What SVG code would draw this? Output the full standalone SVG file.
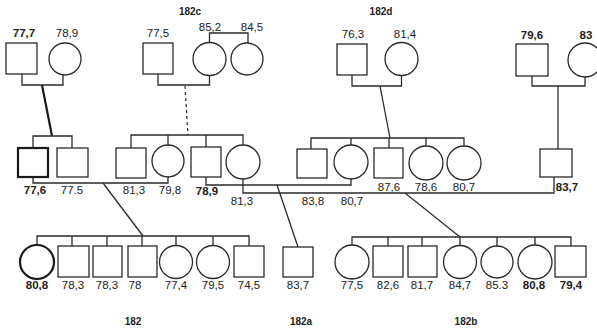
<svg xmlns="http://www.w3.org/2000/svg" width="597" height="330" viewBox="0 0 597 330">
<style>
.s{fill:none;stroke:#2a2a2a;stroke-width:1.3}
.t{fill:none;stroke:#1a1a1a;stroke-width:2.2}
.c{fill:none;stroke:#2a2a2a;stroke-width:1.3}
.d{fill:none;stroke:#2a2a2a;stroke-width:1.2;stroke-dasharray:3 3}
text{font-family:"Liberation Sans",Arial,sans-serif;font-size:11.5px;fill:#222;text-anchor:middle}
.b{font-weight:bold}
.h{font-size:10px;font-weight:bold}
</style>
<rect width="597" height="330" fill="#fff"/>
<g id="connectors">
<path class="c" d="M22,74 V85 H63 V75"/>
<path class="c" d="M158,74 V85 H209.5 V75.5"/>
<path class="c" d="M209.5,42.5 V33 H248 V43"/>
<path class="c" d="M352,75 V86 H401.5 V75.5"/>
<path class="c" d="M532,76 V86 H585 V77"/>
<path class="t" d="M42,85 L52,136"/>
<path class="d" d="M185,86 L188,135"/>
<path class="c" d="M380,86 L390,138"/>
<path class="c" d="M558,86 V149"/>
<path class="c" d="M33,148 V136 H72 V148"/>
<path class="c" d="M131,148 V135 H243 V145 M168,135 V145 M206,135 V147"/>
<path class="c" d="M311,149 V138 H464 V146 M351,138 V145 M389,138 V148 M426,138 V146"/>
<path class="c" d="M33,177 V183 H168 V177"/>
<path class="c" d="M206,177 V185 H351 V179"/>
<path class="c" d="M243,179 V193 H554 V177"/>
<path class="c" d="M103,183 L143,236"/>
<path class="c" d="M277,185 L298,247"/>
<path class="c" d="M405,193 L460,237"/>
<path class="c" d="M37,245 V236 H249 V246 M72,236 V246 M107,236 V246 M142,236 V246 M176,236 V245.5 M213,236 V245.5"/>
<path class="c" d="M352,245 V237 H571 V246 M388,237 V246 M422,237 V246 M460,237 V245.5 M497,237 V246 M535,237 V245"/>
</g>
<g id="titles">
<text class="h" x="190" y="15">182c</text>
<text class="h" x="381" y="15">182d</text>
<text class="h" x="133" y="325">182</text>
<text class="h" x="301" y="325">182a</text>
<text class="h" x="466" y="325">182b</text>
</g>
<g id="n_77_7"><rect class="s" x="6" y="43" width="31" height="31"/><text class="b" x="24" y="37">77,7</text></g>
<g id="n_78_9"><circle class="s" cx="65" cy="59" r="16"/><text x="67" y="37">78,9</text></g>
<g id="n_77_5c"><rect class="s" x="143" y="43" width="30" height="31"/><text x="158" y="37">77,5</text></g>
<g id="n_85_2"><circle class="s" cx="209.5" cy="59" r="16.5"/><text x="210" y="31">85,2</text></g>
<g id="n_84_5"><circle class="s" cx="247" cy="59" r="16"/><text x="252" y="31">84,5</text></g>
<g id="n_76_3"><rect class="s" x="337" y="44" width="30" height="31"/><text x="353" y="38">76,3</text></g>
<g id="n_81_4"><circle class="s" cx="401.5" cy="59" r="16.5"/><text x="405" y="38">81,4</text></g>
<g id="n_79_6"><rect class="s" x="516" y="44" width="32" height="32"/><text class="b" x="532" y="39">79,6</text></g>
<g id="n_83"><circle class="s" cx="585" cy="60" r="17"/><text class="b" x="586" y="39">83</text></g>
<g id="n_77_6"><rect class="t" x="18" y="148" width="30" height="29"/><text class="b" x="35" y="194">77,6</text></g>
<g id="n_77_5"><rect class="s" x="57" y="148" width="31" height="29"/><text x="72" y="194">77.5</text></g>
<g id="n_81_3a"><rect class="s" x="116" y="148" width="30" height="30"/><text x="134" y="194">81,3</text></g>
<g id="n_79_8"><circle class="s" cx="168" cy="161" r="16"/><text x="170" y="194">79,8</text></g>
<g id="n_78_9b"><rect class="s" x="191" y="147" width="30" height="30"/><text class="b" x="207" y="195">78,9</text></g>
<g id="n_81_3b"><circle class="s" cx="243" cy="162" r="17"/><text x="242" y="205">81,3</text></g>
<g id="n_83_8"><rect class="s" x="297" y="149" width="30" height="29"/><text x="313" y="205">83,8</text></g>
<g id="n_80_7a"><circle class="s" cx="351" cy="162" r="17"/><text x="352" y="205">80,7</text></g>
<g id="n_87_6"><rect class="s" x="374" y="148" width="29" height="30"/><text x="389" y="191">87,6</text></g>
<g id="n_78_6"><circle class="s" cx="426" cy="163" r="17"/><text x="426" y="191">78,6</text></g>
<g id="n_80_7b"><circle class="s" cx="464" cy="163" r="17"/><text x="464" y="191">80,7</text></g>
<g id="n_83_7"><rect class="s" x="540" y="149" width="32" height="28"/><text class="b" x="567" y="191">83,7</text></g>
<g id="n_80_8"><circle class="t" cx="37" cy="262" r="17"/><text class="b" x="37" y="289">80,8</text></g>
<g id="n_78_3a"><rect class="s" x="58" y="246" width="31" height="31"/><text x="73" y="289">78,3</text></g>
<g id="n_78_3b"><rect class="s" x="93" y="246" width="29" height="31"/><text x="107" y="289">78,3</text></g>
<g id="n_78"><rect class="s" x="128" y="246" width="29" height="31"/><text x="135" y="289">78</text></g>
<g id="n_77_4"><circle class="s" cx="176" cy="262" r="16.5"/><text x="176" y="289">77,4</text></g>
<g id="n_79_5"><circle class="s" cx="213" cy="262" r="16.5"/><text x="213" y="289">79,5</text></g>
<g id="n_74_5"><rect class="s" x="234" y="246" width="30" height="31"/><text x="249" y="289">74,5</text></g>
<g id="n_83_7a"><rect class="s" x="283" y="247" width="30" height="30"/><text x="298" y="289">83,7</text></g>
<g id="n_77_5b"><circle class="s" cx="352" cy="262" r="17"/><text x="352" y="289">77,5</text></g>
<g id="n_82_6"><rect class="s" x="373" y="246" width="30" height="31"/><text x="388" y="289">82,6</text></g>
<g id="n_81_7"><rect class="s" x="408" y="246" width="29" height="31"/><text x="422" y="289">81,7</text></g>
<g id="n_84_7"><circle class="s" cx="460" cy="262" r="16.5"/><text x="460" y="289">84,7</text></g>
<g id="n_85_3"><circle class="s" cx="497" cy="262" r="16"/><text x="497" y="289">85.3</text></g>
<g id="n_80_8b"><circle class="s" cx="535" cy="262" r="17"/><text class="b" x="534" y="289">80,8</text></g>
<g id="n_79_4"><rect class="s" x="555" y="246" width="31" height="31"/><text class="b" x="571" y="289">79,4</text></g>
</svg>
